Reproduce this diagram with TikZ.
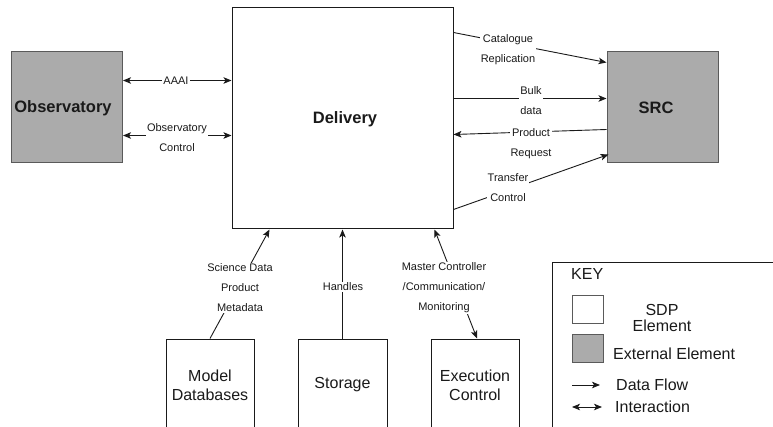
\documentclass[tikz,border=0pt]{standalone}
\usepackage{fontspec}
\setmainfont{Liberation Sans}
\usetikzlibrary{arrows.meta}

\definecolor{extgrey}{HTML}{ABABAB}
\definecolor{extline}{HTML}{5A5A5A}
\definecolor{ink}{HTML}{1A1A1A}

\tikzset{
  sdpbox/.style={draw=ink, line width=1pt, fill=white, minimum width=#1, inner sep=0pt,
    font=\fontsize{16}{19}\selectfont, text=ink, align=center},
  extbox/.style={draw=extline, line width=1pt, fill=extgrey, minimum width=111pt, minimum height=111pt,
    inner sep=0pt},
  boldtext/.style={inner sep=0pt, text=ink, font=\bfseries\fontsize{16.5}{19}\selectfont},
  flow/.style={draw=ink, line width=0.9pt, -{Stealth[length=8pt,width=6.5pt,inset=2pt]}},
  inter/.style={draw=ink, line width=0.9pt, {Stealth[length=8pt,width=6.5pt,inset=2pt]}-{Stealth[length=8pt,width=6.5pt,inset=2pt]}},
  lbl/.style={fill=white, inner sep=1pt, align=center, text=ink, font=\fontsize{11}{20}\selectfont},
  keytext/.style={inner sep=0pt, text=ink, font=\fontsize{16}{16}\selectfont, align=center},
}

\begin{document}
\begin{tikzpicture}[x=1pt, y=-1pt]
  \clip (0,0) rectangle (773,427);
  \fill[white] (0,0) rectangle (773,427);

  % main blocks
  \node[sdpbox=221pt, minimum height=221pt] (deliv) at (342.5,118.5) {};
  \node[boldtext] at (345,119) {Delivery};
  \node[extbox] (obs) at (67,107.5) {};
  \node[boldtext] at (63,108) {Observatory};
  \node[extbox] (src) at (662.5,107.5) {};
  \node[boldtext] at (656,108) {SRC};

  % lower SDP elements
  \node[sdpbox=88pt, minimum height=92pt] (model) at (210,385) {};
  \node[keytext, font=\fontsize{16}{19}\selectfont] at (210,385) {Model\\Databases};
  \node[sdpbox=89pt, minimum height=92pt] (stor) at (342.5,385) {};
  \node[keytext] at (342.5,385) {Storage};
  \node[sdpbox=88pt, minimum height=92pt] (exec) at (475,385) {};
  \node[keytext, font=\fontsize{16}{19}\selectfont] at (475,385) {Execution\\Control};

  % Observatory <-> Delivery
  \draw[inter] ([yshift=-29pt]obs.north east) -- ([yshift=-73pt]deliv.north west);
  \draw[inter] ([yshift=-84pt]obs.north east) -- ([yshift=-128pt]deliv.north west);
  \node[lbl] at (176,81) {AAAI};
  \node[lbl] at (177,138) {Observatory\\Control};

  % Delivery <-> SRC
  \draw[flow] ([yshift=-25pt]deliv.north east) -- ([yshift=-11pt]src.north west);
  \draw[flow] ([yshift=-91pt]deliv.north east) -- ([yshift=-47pt]src.north west);
  \draw[flow] ([yshift=-78pt]src.north west) -- ([yshift=-127pt]deliv.north east);
  \draw[flow] ([yshift=-202pt]deliv.north east) -- ([yshift=-103pt,xshift=2pt]src.north west);
  \node[lbl] at (508,50) {Catalogue\\Replication};
  \node[lbl] at (531,101) {Bulk\\data};
  \node[lbl] at (531,144) {Product\\Request};
  \node[lbl] at (508,188) {Transfer\\Control};

  % lower elements -> Delivery
  \draw[flow] (model.north) -- ([xshift=38pt]deliv.south west);
  \draw[flow] (stor.north) -- (stor.north |- deliv.south);
  \draw[inter] ([xshift=203pt]deliv.south west) -- ([xshift=2pt]exec.north);
  \node[lbl] at (240,288) {Science Data\\Product\\Metadata};
  \node[lbl] at (343,287) {Handles};
  \node[lbl] at (444,288) {Master Controller\\/Communication/\\Monitoring};

  % key
  \node[draw=ink, line width=1pt, fill=white, minimum width=240pt, minimum height=180pt, anchor=north west, inner sep=0pt] (key) at (552,262) {};
  \node[keytext, anchor=west] (keyt) at (571,274) {KEY};
  \node[draw=extline, line width=1pt, fill=white, minimum width=31pt, minimum height=27pt, inner sep=0pt] (ksdp) at (587.5,309.5) {};
  \node[keytext] at (662,318) {SDP\\Element};
  \node[draw=extline, line width=1pt, fill=extgrey, minimum width=31pt, minimum height=28pt, inner sep=0pt] (kext) at (587.5,348) {};
  \node[keytext, anchor=west] at (613,354) {External Element};
  \coordinate (kf1) at (572,385);
  \coordinate (kf2) at (600,385);
  \draw[flow] (kf1) -- (kf2);
  \node[keytext, anchor=west] at (616,385) {Data Flow};
  \coordinate (ki1) at (572,407);
  \coordinate (ki2) at (602,407);
  \draw[inter] (ki1) -- (ki2);
  \node[keytext, anchor=west] at (615,407) {Interaction};
\end{tikzpicture}
\end{document}
